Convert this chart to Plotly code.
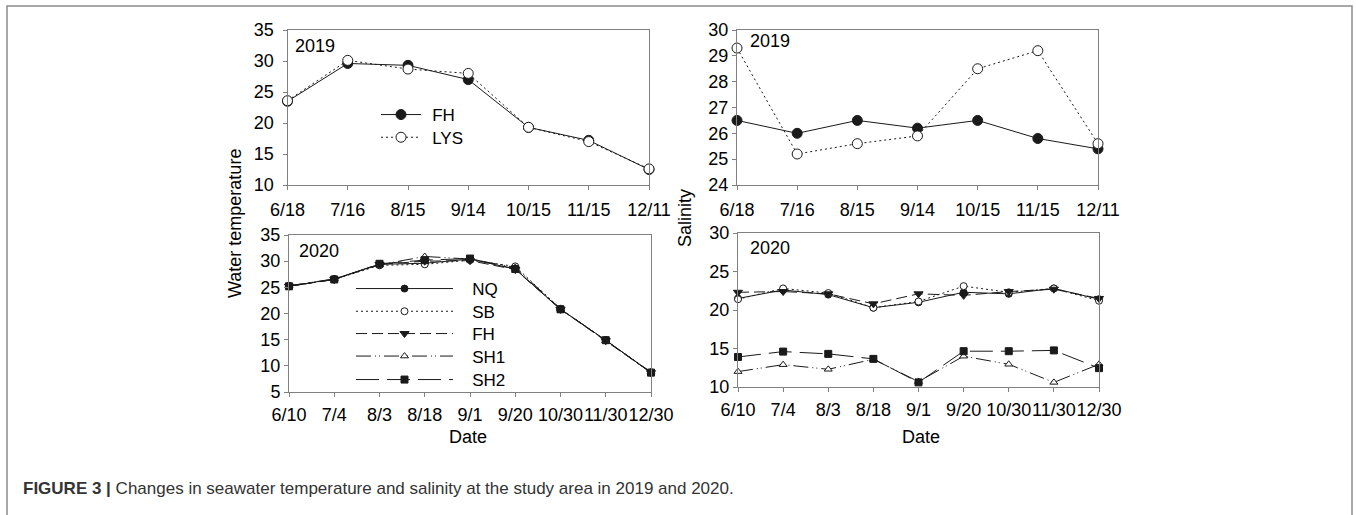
import plotly.graph_objects as go

W, H = 1356, 515

# ---------------- data ----------------
dates_2019 = ["6/18", "7/16", "8/15", "9/14", "10/15", "11/15", "12/11"]
temp_2019_FH = [23.5, 29.6, 29.3, 27.0, 19.3, 17.2, 12.5]
temp_2019_LYS = [23.6, 30.1, 28.7, 28.0, 19.3, 17.0, 12.6]
sal_2019_FH = [26.5, 26.0, 26.5, 26.2, 26.5, 25.8, 25.4]
sal_2019_LYS = [29.3, 25.2, 25.6, 25.9, 28.5, 29.2, 25.6]

dates_2020 = ["6/10", "7/4", "8/3", "8/18", "9/1", "9/20", "10/30", "11/30", "12/30"]
temp_2020_NQ = [25.2, 26.6, 29.4, 29.6, 30.4, 28.5, 20.8, 14.9, 8.7]
temp_2020_SB = [25.3, 26.5, 29.2, 29.4, 30.2, 29.0, 20.9, 14.9, 8.8]
temp_2020_FH = [25.2, 26.5, 29.4, 30.0, 30.1, 28.4, 20.8, 14.8, 8.7]
temp_2020_SH1 = [25.3, 26.6, 29.3, 30.9, 30.4, 28.8, 20.9, 14.8, 8.8]
temp_2020_SH2 = [25.2, 26.5, 29.5, 30.2, 30.5, 28.5, 20.8, 14.9, 8.7]

sal_2020_NQ = [21.5, 22.6, 22.0, 20.3, 21.0, 22.3, 22.1, 22.8, 21.4]
sal_2020_SB = [21.4, 22.8, 22.2, 20.3, 21.1, 23.1, 22.3, 22.8, 21.2]
sal_2020_FH = [22.3, 22.4, 22.1, 20.8, 22.1, 21.9, 22.4, 22.7, 21.5]
sal_2020_SH1 = [12.0, 12.9, 12.3, 13.6, 10.7, 14.0, 12.95, 10.6, 12.95]
sal_2020_SH2 = [13.9, 14.6, 14.3, 13.65, 10.6, 14.65, 14.65, 14.75, 12.45]

stations_2020 = ["NQ", "SB", "FH", "SH1", "SH2"]

FONT = "Liberation Sans, Arial, sans-serif"
LINE = "#1a1a1a"
AXC = "#808080"
NB = "\u00a0"

def px_x(a, b):
    return [a / W, b / W]

def px_y(top, bottom):
    return [1 - bottom / H, 1 - top / H]

fig = go.Figure()

st = {
    "NQ": dict(dash="solid", symbol="circle", fill=LINE, size=7),
    "SB": dict(dash="2px,3px", symbol="circle", fill="white", size=7),
    "FH": dict(dash="11px,5px", symbol="triangle-down", fill=LINE, size=8),
    "SH1": dict(dash="15px,4px,1px,3px,1px,4px", symbol="triangle-up", fill="white", size=7),
    "SH2": dict(dash="23px,8px", symbol="square", fill=LINE, size=7),
}

def add(x, y, xa, ya, name, dash, symbol, fill, size, showlegend, legend="legend"):
    fig.add_trace(go.Scatter(
        x=x, y=y, xaxis=xa, yaxis=ya, name=name, mode="lines+markers",
        line=dict(color=LINE, width=1, dash=dash),
        marker=dict(symbol=symbol, color=fill, size=size, line=dict(color=LINE, width=1)),
        cliponaxis=False, showlegend=showlegend, legend=legend,
    ))

PAD_TOP = NB + "\u200a"
PAD_BOT = NB * 3

# top-left: temperature 2019
add(dates_2019, temp_2019_FH, "x", "y", PAD_TOP + "FH", "solid", "circle", LINE, 10, True, "legend")
add(dates_2019, temp_2019_LYS, "x", "y", PAD_TOP + "LYS", "2px,3px", "circle", "white", 10, True, "legend2")
# top-right: salinity 2019
add(dates_2019, sal_2019_FH, "x2", "y2", "FH", "solid", "circle", LINE, 10, False)
add(dates_2019, sal_2019_LYS, "x2", "y2", "LYS", "2px,3px", "circle", "white", 10, False)

temp2020 = {"NQ": temp_2020_NQ, "SB": temp_2020_SB, "FH": temp_2020_FH,
            "SH1": temp_2020_SH1, "SH2": temp_2020_SH2}
sal2020 = {"NQ": sal_2020_NQ, "SB": sal_2020_SB, "FH": sal_2020_FH,
           "SH1": sal_2020_SH1, "SH2": sal_2020_SH2}
for i, k in enumerate(stations_2020):
    s = st[k]
    add(dates_2020, temp2020[k], "x3", "y3", PAD_BOT + k, s["dash"], s["symbol"], s["fill"],
        s["size"], True, "legend%d" % (i + 3))
for k in stations_2020:
    s = st[k]
    add(dates_2020, sal2020[k], "x4", "y4", k, s["dash"], s["symbol"], s["fill"], s["size"], False)

tickfont = dict(family=FONT, size=18, color="black")

def xax(dom, anchor, cats, standoff):
    return dict(domain=dom, anchor=anchor, type="category", categoryorder="array",
                categoryarray=cats, range=[0, len(cats) - 1], tickangle=0,
                showline=True, mirror=True, linecolor=AXC, linewidth=1,
                ticks="outside", ticklen=4, tickcolor=AXC, showgrid=False,
                zeroline=False, tickfont=tickfont, automargin=False,
                ticklabelstandoff=standoff)

def yax(dom, anchor, rng, dtick, standoff):
    return dict(domain=dom, anchor=anchor, range=rng, dtick=dtick, tick0=0,
                showline=True, mirror=True, linecolor=AXC, linewidth=1,
                ticks="outside", ticklen=4, tickcolor=AXC, showgrid=False,
                zeroline=False, tickfont=tickfont, automargin=False,
                ticklabelstandoff=standoff)

def leg(line_start, row_center, itemwidth):
    return dict(x=(line_start - 4) / W, y=1 - (row_center - 18) / H,
                xanchor="left", yanchor="top", bgcolor="rgba(0,0,0,0)",
                font=dict(family=FONT, size=17, color="black"),
                itemwidth=itemwidth, tracegroupgap=0)

legends = {
    "legend": leg(380, 115, 40),
    "legend2": leg(380, 137.7, 40),
}
rows_2020 = [289, 311.7, 334, 356.5, 380]
for i, r in enumerate(rows_2020):
    legends["legend%d" % (i + 3)] = leg(355, r, 97)

fig.update_layout(
    width=W, height=H, margin=dict(l=0, r=0, t=0, b=0),
    paper_bgcolor="white", plot_bgcolor="white",
    font=dict(family=FONT, size=17, color="black"),
    xaxis=xax(px_x(287.5, 649), "y", dates_2019, 4),
    yaxis=yax(px_y(30, 185), "x", [10, 35], 5, 5),
    xaxis2=xax(px_x(737, 1098), "y2", dates_2019, 4),
    yaxis2=yax(px_y(30, 185), "x2", [24, 30], 1, 0),
    xaxis3=xax(px_x(289, 651), "y3", dates_2020, 2),
    yaxis3=yax(px_y(235, 392), "x3", [5, 35], 5, 0),
    xaxis4=xax(px_x(738, 1099), "y4", dates_2020, 2),
    yaxis4=yax(px_y(233, 387), "x4", [10, 30], 5, 0),
    showlegend=True,
    **legends,
)

ann = []
def text(x, y, s, size=17, **kw):
    d = dict(x=x / W, y=1 - y / H, xref="paper", yref="paper", text=s, showarrow=False,
             font=dict(family=FONT, size=size, color="black"))
    d.update(kw)
    ann.append(d)

text(293, 46, "2019", size=18, xanchor="left", yanchor="middle")
text(748, 41, "2019", size=18, xanchor="left", yanchor="middle")
text(297, 251, "2020", size=18, xanchor="left", yanchor="middle")
text(748, 248, "2020", size=18, xanchor="left", yanchor="middle")
text(235, 224, "Water temperature", size=18, textangle=-90, xanchor="center", yanchor="middle")
text(685, 218, "Salinity", size=18, textangle=-90, xanchor="center", yanchor="middle")
text(468, 437, "Date", size=18, xanchor="center", yanchor="middle")
text(921, 437, "Date", size=18, xanchor="center", yanchor="middle")
ann.append(dict(x=21 / W, y=1 - 488 / H, xref="paper", yref="paper", showarrow=False,
                xanchor="left", yanchor="middle",
                text="<b>FIGURE 3 |</b> Changes in seawater temperature and salinity at the study area in 2019 and 2020.",
                font=dict(family=FONT, size=17, color="#333333")))
fig.update_layout(annotations=ann)

fig.add_shape(type="rect", xref="paper", yref="paper",
              x0=7 / W, x1=1352 / W, y0=-0.2, y1=1 - 6 / H,
              line=dict(color="#8c8c8c", width=1.5), fillcolor="rgba(0,0,0,0)")

fig.write_html("out.html")
